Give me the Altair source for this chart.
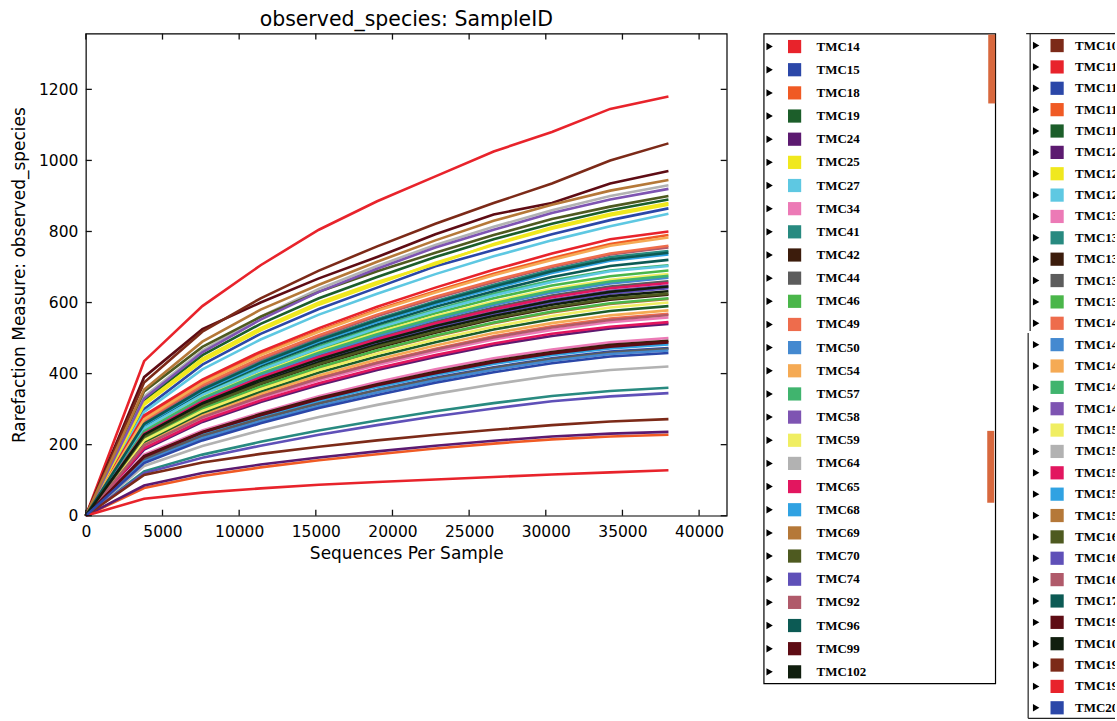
import altair as alt
import pandas as pd

# ---------------- data ----------------
depths = [0, 3800, 7600, 11400, 15200, 19000, 22800, 26600, 30400, 34200, 38000]
x_tick_values = [0, 5000, 10000, 15000, 20000, 25000, 30000, 35000, 40000]
y_tick_values = [0, 200, 400, 600, 800, 1000, 1200]
x_max = 41800
y_max = 1357

legend1_ids = ["TMC14", "TMC15", "TMC18", "TMC19", "TMC24", "TMC25", "TMC27", "TMC34",
               "TMC41", "TMC42", "TMC44", "TMC46", "TMC49", "TMC50", "TMC54", "TMC57",
               "TMC58", "TMC59", "TMC64", "TMC65", "TMC68", "TMC69", "TMC70", "TMC74",
               "TMC92", "TMC96", "TMC99", "TMC102"]
legend2_ids = ["TMC104", "TMC110", "TMC112", "TMC114", "TMC117", "TMC120", "TMC122", "TMC125",
               "TMC130", "TMC132", "TMC134", "TMC136", "TMC138", "TMC140", "TMC142", "TMC144",
               "TMC146", "TMC148", "TMC150", "TMC151", "TMC153", "TMC155", "TMC157", "TMC160",
               "TMC162", "TMC164", "TMC170", "TMC190", "TMC106", "TMC192", "TMC195", "TMC200"]

palette = ["#e8232b", "#2b47a8", "#f05a24", "#1c5e2a", "#5c1a70", "#f0e81e", "#5ec8e2",
           "#ec7ab6", "#288a80", "#3c1c0c", "#5c5c5c", "#4ab64a", "#ee6c4c", "#4489d0",
           "#f5aa54", "#40b46e", "#7e54b2", "#f0ee62", "#b2b2b2", "#e2165f", "#30a2e2",
           "#b57838", "#4e5a20", "#5f50b8", "#b05a6a", "#0c5a54", "#5e0c14", "#101e0e",
           "#7c2a18"]

# observed species per sample at each rarefaction depth
TMC14 = [0, 435, 590, 705, 805, 885, 955, 1025, 1080, 1145, 1180]
TMC15 = [0, 300, 425, 512, 582, 642, 702, 748, 792, 832, 865]
TMC18 = [0, 276, 377, 456, 521, 580, 632, 681, 725, 765, 790]
TMC19 = [0, 325, 452, 540, 612, 672, 728, 778, 822, 860, 890]
TMC24 = [0, 186, 264, 320, 368, 410, 447, 480, 506, 527, 540]
TMC25 = [0, 318, 442, 528, 600, 658, 708, 765, 812, 850, 880]
TMC27 = [0, 292, 412, 496, 566, 625, 680, 730, 775, 815, 850]
TMC34 = [0, 195, 274, 331, 381, 424, 462, 496, 523, 545, 558]
TMC41 = [0, 260, 358, 434, 498, 554, 604, 650, 693, 728, 745]
TMC42 = [0, 220, 306, 370, 425, 473, 515, 553, 584, 608, 622]
TMC44 = [0, 233, 324, 392, 450, 500, 546, 586, 620, 645, 660]
TMC46 = [0, 244, 338, 408, 468, 522, 570, 612, 648, 674, 690]
TMC49 = [0, 200, 279, 338, 388, 432, 470, 505, 533, 555, 568]
TMC50 = [0, 236, 328, 396, 455, 506, 552, 593, 628, 654, 670]
TMC54 = [0, 204, 284, 344, 395, 440, 479, 514, 542, 564, 578]
TMC57 = [0, 250, 344, 414, 477, 532, 580, 625, 662, 690, 705]
TMC58 = [0, 229, 319, 385, 443, 492, 537, 575, 608, 633, 648]
TMC59 = [0, 240, 334, 403, 463, 516, 562, 603, 638, 664, 680]
TMC64 = [0, 335, 465, 560, 638, 703, 762, 813, 860, 900, 930]
TMC65 = [0, 190, 268, 324, 373, 415, 452, 485, 512, 532, 545]
TMC68 = [0, 162, 230, 279, 323, 362, 396, 427, 452, 471, 482]
TMC69 = [0, 215, 300, 362, 416, 464, 505, 542, 572, 596, 610]
TMC70 = [0, 350, 475, 560, 630, 688, 740, 790, 835, 870, 900]
TMC74 = [0, 226, 315, 380, 437, 486, 530, 568, 600, 625, 640]
TMC92 = [0, 264, 364, 440, 504, 562, 612, 658, 700, 735, 755]
TMC96 = [0, 252, 348, 421, 484, 538, 588, 632, 672, 703, 720]
TMC99 = [0, 390, 525, 600, 668, 728, 792, 848, 880, 935, 970]
TMC102 = [0, 224, 312, 376, 432, 481, 524, 562, 594, 618, 632]
TMC104 = [0, 375, 518, 612, 690, 758, 822, 880, 935, 1000, 1048]
TMC110 = [0, 282, 383, 462, 528, 588, 642, 692, 738, 778, 800]
TMC112 = [0, 157, 224, 272, 316, 354, 388, 418, 443, 462, 472]
TMC114 = [0, 78, 112, 136, 156, 173, 189, 203, 215, 223, 228]
TMC117 = [0, 208, 290, 350, 403, 448, 488, 524, 553, 576, 590]
TMC120 = [0, 85, 120, 144, 164, 181, 197, 211, 223, 231, 236]
TMC122 = [0, 312, 435, 522, 594, 652, 712, 762, 808, 845, 875]
TMC125 = [0, 246, 340, 410, 472, 528, 576, 620, 658, 688, 703]
TMC130 = [0, 172, 240, 290, 336, 376, 412, 443, 468, 488, 500]
TMC132 = [0, 125, 172, 208, 240, 268, 294, 317, 337, 351, 360]
TMC134 = [0, 168, 236, 286, 331, 370, 405, 436, 461, 481, 492]
TMC136 = [0, 160, 225, 273, 316, 353, 386, 416, 441, 459, 470]
TMC138 = [0, 217, 302, 364, 418, 466, 507, 544, 575, 598, 612]
TMC140 = [0, 268, 368, 444, 508, 566, 616, 662, 703, 738, 760]
TMC142 = [0, 152, 218, 266, 309, 347, 381, 411, 436, 455, 465]
TMC144 = [0, 272, 374, 452, 518, 577, 628, 677, 720, 760, 783]
TMC146 = [0, 238, 331, 400, 459, 511, 557, 598, 633, 659, 675]
TMC148 = [0, 330, 460, 552, 630, 695, 755, 805, 852, 890, 920]
TMC150 = [0, 212, 295, 356, 410, 456, 496, 532, 562, 586, 600]
TMC151 = [0, 140, 196, 240, 278, 312, 343, 370, 394, 410, 420]
TMC153 = [0, 231, 322, 389, 447, 497, 542, 581, 615, 640, 655]
TMC155 = [0, 255, 352, 426, 490, 545, 595, 640, 683, 718, 735]
TMC157 = [0, 355, 490, 580, 650, 715, 775, 830, 875, 915, 945]
TMC160 = [0, 222, 308, 372, 427, 476, 518, 556, 587, 611, 625]
TMC162 = [0, 120, 163, 197, 228, 255, 280, 302, 322, 336, 345]
TMC164 = [0, 198, 277, 335, 386, 430, 468, 502, 530, 551, 565]
TMC170 = [0, 258, 355, 430, 494, 550, 600, 645, 688, 722, 740]
TMC190 = [0, 166, 234, 283, 328, 367, 401, 432, 457, 476, 488]
TMC106 = [0, 228, 317, 383, 440, 490, 534, 572, 605, 630, 645]
TMC192 = [0, 115, 150, 174, 194, 212, 228, 242, 255, 265, 272]
TMC195 = [0, 48, 65, 77, 87, 95, 102, 109, 116, 122, 128]
TMC200 = [0, 148, 212, 260, 303, 340, 374, 404, 429, 448, 458]

# ---------------- build tables ----------------
all_ids = legend1_ids + legend2_ids
color_of = {}
for i, s in enumerate(legend1_ids):
    color_of[s] = palette[i]
for j, s in enumerate(legend2_ids):
    color_of[s] = palette[(j + 28) % len(palette)]
color_scale = alt.Scale(domain=all_ids, range=[color_of[s] for s in all_ids])
color_enc = alt.Color("sample:N", scale=color_scale, legend=None)

rows = []
for s in all_ids:
    for d, v in zip(depths, globals()[s]):
        rows.append({"sample": s, "depth": d, "value": v})
curves = pd.DataFrame(rows)

FONT = "DejaVu Sans"

x_axis = alt.Axis(values=x_tick_values, format="d", grid=False, ticks=False, tickSize=0,
                  domain=False, labelFlush=False, labelOverlap=False, labelPadding=9,
                  labelFont=FONT, labelFontSize=15.5, labelColor="black",
                  title="Sequences Per Sample", titleFont=FONT, titleFontSize=17,
                  titleFontWeight="normal", titleColor="black", titlePadding=5)
y_axis = alt.Axis(values=y_tick_values, format="d", grid=False, ticks=False, tickSize=0,
                  domain=False, labelFlush=False, labelOverlap=False, labelPadding=8,
                  labelFont=FONT, labelFontSize=15.5, labelColor="black",
                  title="Rarefaction Measure: observed_species", titleFont=FONT,
                  titleFontSize=17, titleFontWeight="normal", titleColor="black",
                  titlePadding=10)

lines = alt.Chart(curves).mark_line(strokeWidth=2.6).encode(
    x=alt.X("depth:Q", scale=alt.Scale(domain=[0, x_max], nice=False), axis=x_axis),
    y=alt.Y("value:Q", scale=alt.Scale(domain=[0, y_max], nice=False), axis=y_axis),
    color=color_enc,
)

xt = pd.DataFrame({"depth": x_tick_values})
yt = pd.DataFrame({"value": y_tick_values})
tstyle = dict(size=6, thickness=1.3, color="#111111", opacity=1)
t_bottom = alt.Chart(xt).mark_tick(orient="vertical", yOffset=-3, **tstyle).encode(
    x=alt.X("depth:Q", title="Sequences Per Sample"), y=alt.datum(0))
t_top = alt.Chart(xt).mark_tick(orient="vertical", yOffset=3, **tstyle).encode(
    x=alt.X("depth:Q", title="Sequences Per Sample"), y=alt.datum(y_max))
t_left = alt.Chart(yt).mark_tick(orient="horizontal", xOffset=3, **tstyle).encode(
    y=alt.Y("value:Q", title="Rarefaction Measure: observed_species"), x=alt.datum(0))
t_right = alt.Chart(yt).mark_tick(orient="horizontal", xOffset=-3, **tstyle).encode(
    y=alt.Y("value:Q", title="Rarefaction Measure: observed_species"), x=alt.datum(x_max))

main = alt.layer(lines, t_bottom, t_top, t_left, t_right).properties(
    width=642, height=483,
    title=alt.TitleParams("observed_species: SampleID", font=FONT, fontSize=20.5,
                          fontWeight="normal", color="black", anchor="middle", offset=3),
)

one = alt.Data(values=[{"k": 1}])

# ---------------- legend panel 1 ----------------
leg1_df = pd.DataFrame({"sample": legend1_ids, "slot": list(range(len(legend1_ids)))})
y1 = alt.Y("slot:Q", scale=alt.Scale(domain=[-0.5603, 27.5], reverse=True, nice=False, zero=False),
           axis=None)
tri1 = alt.Chart(leg1_df).mark_point(shape="triangle-right", filled=True, size=55,
                                     color="black", opacity=1).encode(x=alt.value(6), y=y1)
sq1 = alt.Chart(leg1_df).mark_square(size=175, opacity=1).encode(x=alt.value(31), y=y1, color=color_enc)
tx1 = alt.Chart(leg1_df).mark_text(align="left", baseline="middle", font="Liberation Serif",
                                   fontWeight="bold", fontSize=13, color="black").encode(
    x=alt.value(53), y=y1, text="sample:N")
bar_a = alt.Chart(one).mark_rect(color="#d8683e").encode(
    x=alt.value(225), x2=alt.value(232), y=alt.value(1), y2=alt.value(70))
bar_b = alt.Chart(one).mark_rect(color="#d8683e").encode(
    x=alt.value(224), x2=alt.value(231), y=alt.value(398), y2=alt.value(470))
leg1 = alt.layer(bar_a, bar_b, tri1, sq1, tx1).properties(width=232, height=651)

# ---------------- legend panel 2 ----------------
leg2_df = pd.DataFrame({"sample": legend2_ids, "slot": list(range(len(legend2_ids)))})
y2 = alt.Y("slot:Q", scale=alt.Scale(domain=[-0.5607, 31.495], reverse=True, nice=False, zero=False),
           axis=None)
tri2 = alt.Chart(leg2_df).mark_point(shape="triangle-right", filled=True, size=55,
                                     color="black", opacity=1).encode(x=alt.value(4), y=y2)
sq2 = alt.Chart(leg2_df).mark_square(size=175, opacity=1).encode(x=alt.value(25), y=y2, color=color_enc)
tx2 = alt.Chart(leg2_df).mark_text(align="left", baseline="middle", font="Liberation Serif",
                                   fontWeight="bold", fontSize=13, color="black", clip=True).encode(
    x=alt.value(43), y=y2, text="sample:N")
rstyle = dict(color="#222222", strokeWidth=1.2)
b_top = alt.Chart(one).mark_rule(**rstyle).encode(x=alt.value(-6), x2=alt.value(83), y=alt.value(0))
b_left_a = alt.Chart(one).mark_rule(**rstyle).encode(x=alt.value(-2), y=alt.value(0), y2=alt.value(298))
b_left_b = alt.Chart(one).mark_rule(**rstyle).encode(x=alt.value(-4), y=alt.value(300), y2=alt.value(686))
b_bottom = alt.Chart(one).mark_rule(**rstyle).encode(x=alt.value(-4), x2=alt.value(83), y=alt.value(686))
leg2 = alt.layer(b_top, b_left_a, b_left_b, b_bottom, tri2, sq2, tx2).properties(
    width=83, height=686, view=alt.ViewBackground(stroke="transparent"))

chart = alt.hconcat(main, leg1, leg2, spacing=37, bounds="flush").properties(
    padding={"left": 9, "top": 8, "right": 0, "bottom": 0},
    background="white",
).configure_view(stroke="black", strokeWidth=1.2)

chart.save("out.html", embed_options={"renderer": "svg", "actions": False})
